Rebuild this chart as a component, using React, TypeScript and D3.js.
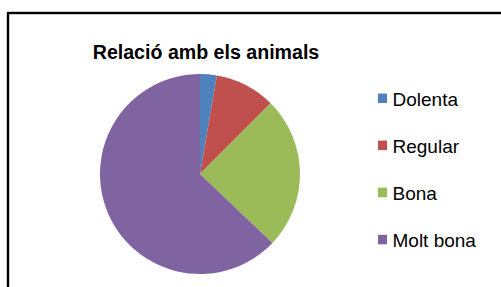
import React from "react";
import * as d3 from "d3";

const categories = ["Dolenta", "Regular", "Bona", "Molt bona"];
const values = [2.7, 9.8, 24.6, 62.9];
const colors = ["#4F81BD", "#C0504D", "#9BBB59", "#8064A2"];
const title = "Relació amb els animals";

export default function App() {
  const W = 501, H = 287;
  const cx = 200, cy = 174, r = 100;
  const pie = d3.pie<number>().sort(null).value((d) => d)(values);
  const arc = d3.arc<d3.PieArcDatum<number>>().innerRadius(0).outerRadius(r);
  const legendY = d3.scaleLinear().domain([0, 1]).range([105.8, 152.9]);
  return (
    <svg width={W} height={H} style={{ position: "absolute", left: 0, top: 0, background: "#fff" }}
      fontFamily="'Liberation Sans', Arial, sans-serif">
      <rect x={0} y={0} width={W} height={H} fill="#fff" />
      <rect x={8} y={13} width={W + 20} height={H + 20} fill="none" stroke="#000" strokeWidth={2.4} />
      <text x={206} y={59.3} textAnchor="middle" fontSize={19.6} fontWeight="bold" fill="#000">{title}</text>
      <g transform={`translate(${cx},${cy})`}>
        {pie.map((p, i) => (
          <path key={i} d={arc(p) || ""} fill={colors[i]} />
        ))}
      </g>
      {categories.map((c, i) => (
        <g key={c}>
          <rect x={378} y={legendY(i) - 12.3} width={9} height={9.5} fill={colors[i]} />
          <text x={392.5} y={legendY(i)} fontSize={19} fill="#000">{c}</text>
        </g>
      ))}
    </svg>
  );
}
